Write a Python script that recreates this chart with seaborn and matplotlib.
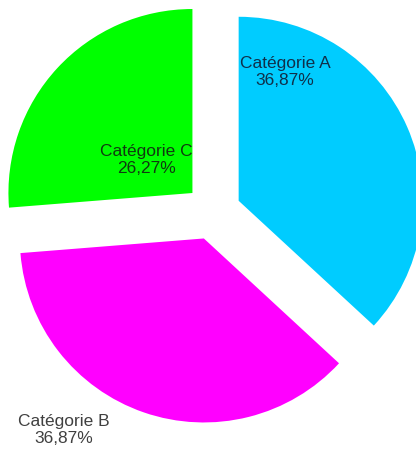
import matplotlib
matplotlib.use("Agg")
import matplotlib.pyplot as plt
import seaborn as sns

categories = ["Catégorie A", "Catégorie B", "Catégorie C"]
values = [36.87, 36.87, 26.27]
value_labels = ["36,87%", "36,87%", "26,27%"]
colors_hex = ["#00CCFF", "#FF00FF", "#00FF00"]

sns.set_theme(style="white")
plt.rcParams["font.family"] = ["Liberation Sans", "DejaVu Sans"]

palette = sns.color_palette(colors_hex)

fig = plt.figure(figsize=(4.16, 4.5), dpi=100)
ax = fig.add_axes([0, 0, 1, 1])
ax.pie(values, colors=palette, startangle=90, counterclock=False,
       center=(213, 238), radius=184, explode=[28, 28, 28],
       wedgeprops=dict(linewidth=0), frame=False)
ax.set_xlim(0, 416)
ax.set_ylim(0, 450)
ax.set_aspect("equal")
ax.axis("off")

label_pos = [(285, 378), (64, 20), (146, 290)]
label_col = ["#10304a", "#404040", "#103a10"]
for cat, lab, pos, col in zip(categories, value_labels, label_pos, label_col):
    ax.text(pos[0], pos[1], f"{cat}\n{lab}", ha="center", va="center",
            multialignment="center", fontsize=12.5, color=col, linespacing=1.15)

fig.savefig("out.png", dpi=100, facecolor="white")
